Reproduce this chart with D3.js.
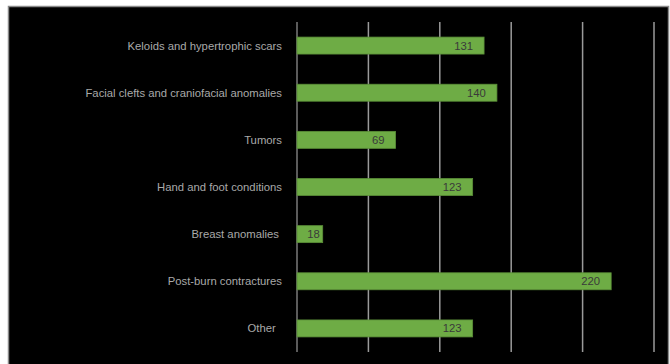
<!DOCTYPE html>
<meta charset="utf-8">
<style>
    body { margin: 0; background: #fff; }
    .cat { fill: #a9a9a9; font-family: "Liberation Sans", Arial, sans-serif; font-size: 11.3px; white-space: pre; }
    .val { fill: #3a3a3a; font-family: "Liberation Sans", Arial, sans-serif; font-size: 11.3px; }
</style>
<body></body>
<script src="https://d3js.org/d3.v7.min.js"></script>
<script>
    // data
    const categories = ["Keloids and hypertrophic scars", "Facial clefts and craniofacial anomalies",
        "Tumors", "Hand and foot conditions", "Breast anomalies ", "Post-burn contractures", "Other  "];
    const counts = [131, 140, 69, 123, 18, 220, 123];
    const xTicks = [0, 50, 100, 150, 200, 250];

    const W = 670, H = 364;
    const plot = {left: 297, right: 654, top: 22, bottom: 352};

    const svg = d3.select("body").append("svg")
        .attr("width", W)
        .attr("height", H);

    // black panel with thin grey frame
    svg.append("rect")
        .attr("x", 8.5).attr("y", 6.5)
        .attr("width", 660).attr("height", H)
        .attr("fill", "#000")
        .attr("stroke", "#8a8a8a")
        .attr("stroke-width", 1.5);

    const x = d3.scaleLinear().domain([0, 250]).range([plot.left, plot.right]);
    const y = d3.scaleBand().domain(categories).range([plot.top, plot.bottom])
        .paddingInner(0.64).paddingOuter(0.32);

    // vertical gridlines
    svg.append("g").selectAll("line")
        .data(xTicks)
      .enter().append("line")
        .attr("x1", d => x(d)).attr("x2", d => x(d))
        .attr("y1", plot.top).attr("y2", plot.bottom)
        .attr("stroke", d => d === 0 ? "#7a7a7a" : "#9a9a9a")
        .attr("stroke-width", 1.5);

    const data = categories.map((c, i) => ({cat: c, n: counts[i]}));

    // bars
    svg.append("g").selectAll("rect")
        .data(data)
      .enter().append("rect")
        .attr("x", x(0))
        .attr("y", d => y(d.cat))
        .attr("width", d => x(d.n) - x(0))
        .attr("height", y.bandwidth())
        .attr("fill", "#6eac45")
        .attr("stroke", "#5b8f38")
        .attr("stroke-width", 0.8);

    // value labels, inside end (short bars keep the label near the end)
    svg.append("g").selectAll("text")
        .data(data)
      .enter().append("text")
        .attr("class", "val")
        .attr("x", d => x(d.n) - (x(d.n) - x(0) < 40 ? 3 : 11))
        .attr("y", d => y(d.cat) + y.bandwidth() / 2)
        .attr("dy", "0.36em")
        .attr("text-anchor", "end")
        .text(d => d.n);

    // category labels
    svg.append("g").selectAll("text")
        .data(data)
      .enter().append("text")
        .attr("class", "cat")
        .attr("x", plot.left - 15)
        .attr("y", d => y(d.cat) + y.bandwidth() / 2)
        .attr("dy", "0.36em")
        .attr("text-anchor", "end")
        .text(d => d.cat);
</script>
